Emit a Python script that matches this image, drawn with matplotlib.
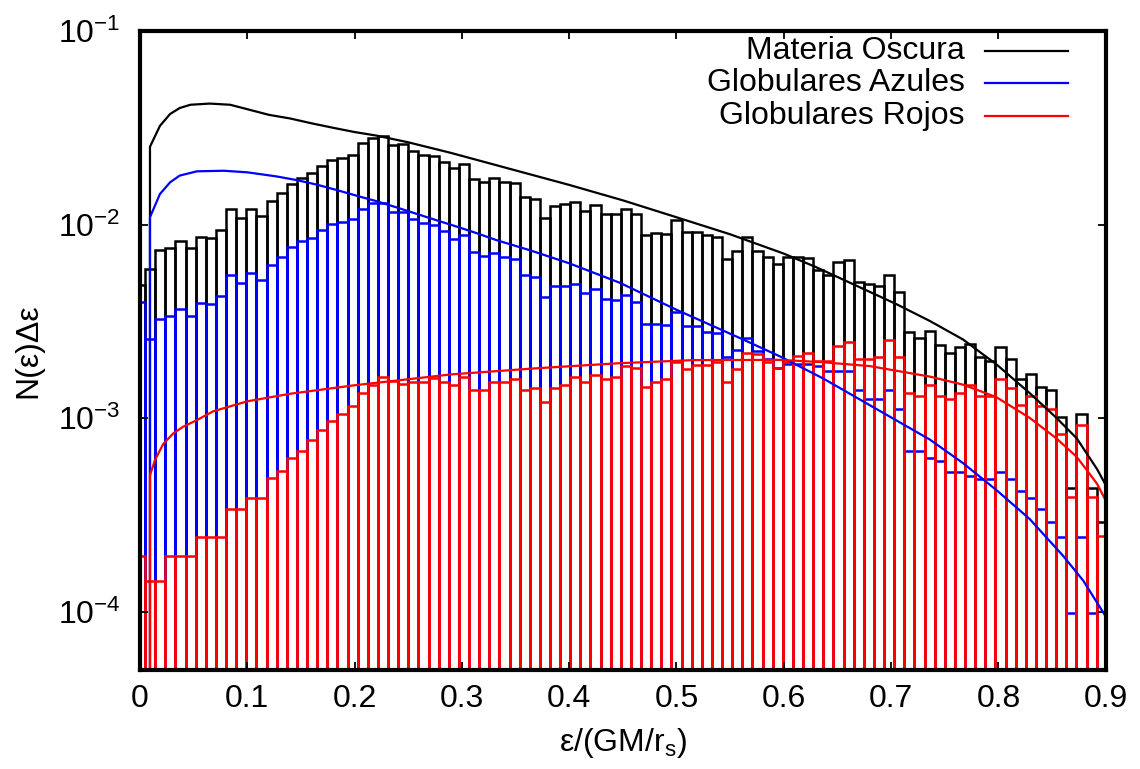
import numpy as np
import matplotlib
matplotlib.use("Agg")
import matplotlib.pyplot as plt
from matplotlib.ticker import NullLocator

plt.rcParams["font.family"] = ["Liberation Sans", "DejaVu Sans"]
plt.rcParams["mathtext.default"] = "regular"

# histogram bins: boxes centred on k * BIN_WIDTH
BIN_WIDTH = 0.009435

dark_hist = [
    4.9e-3, 5.91e-3, 7.35e-3, 7.6e-3, 8.2e-3, 7.6e-3, 8.67e-3, 8.5e-3, 9.4e-3, 1.205e-2,
    1.08e-2, 1.205e-2, 1.11e-2, 1.33e-2, 1.456e-2, 1.63e-2, 1.75e-2, 1.845e-2, 2.0e-2, 2.16e-2,
    2.22e-2, 2.30e-2, 2.65e-2, 2.80e-2, 2.88e-2, 2.58e-2, 2.61e-2, 2.39e-2, 2.29e-2, 2.27e-2,
    2.11e-2, 1.97e-2, 2.06e-2, 1.72e-2, 1.65e-2, 1.73e-2, 1.65e-2, 1.64e-2, 1.39e-2, 1.355e-2,
    1.076e-2, 1.25e-2, 1.27e-2, 1.31e-2, 1.18e-2, 1.26e-2, 1.14e-2, 1.13e-2, 1.21e-2, 1.13e-2,
    8.85e-3, 9.02e-3, 8.93e-3, 1.05e-2, 9.16e-3, 9.16e-3, 8.8e-3, 8.63e-3, 6.65e-3, 7.34e-3,
    8.59e-3, 7.34e-3, 6.82e-3, 6.27e-3, 6.82e-3, 6.82e-3, 6.72e-3, 5.8e-3, 5.47e-3, 6.4e-3,
    6.56e-3, 5.08e-3, 4.96e-3, 4.79e-3, 5.52e-3, 4.49e-3, 2.78e-3, 2.6e-3, 2.82e-3, 2.4e-3,
    2.17e-3, 2.32e-3, 2.41e-3, 2.08e-3, 1.98e-3, 2.32e-3, 2.03e-3, 1.60e-3, 1.70e-3, 1.45e-3,
    1.40e-3, 1.01e-3, 4.37e-4, 1.05e-3, 4.37e-4, 2.9e-4,
]

blue_hist = [
    4.0e-3, 2.55e-3, 3.24e-3, 3.38e-3, 3.66e-3, 3.38e-3, 3.92e-3, 3.88e-3, 4.27e-3, 5.52e-3,
    5.0e-3, 5.61e-3, 5.19e-3, 6.19e-3, 6.79e-3, 7.64e-3, 8.2e-3, 8.57e-3, 9.4e-3, 1.007e-2,
    1.028e-2, 1.07e-2, 1.205e-2, 1.29e-2, 1.30e-2, 1.156e-2, 1.156e-2, 1.07e-2, 1.016e-2, 1.0e-2,
    9.3e-3, 8.4e-3, 8.8e-3, 7.2e-3, 6.9e-3, 7.15e-3, 6.8e-3, 6.66e-3, 5.47e-3, 5.33e-3,
    4.23e-3, 4.83e-3, 4.83e-3, 4.95e-3, 4.42e-3, 4.67e-3, 4.13e-3, 4.09e-3, 4.35e-3, 3.97e-3,
    3.08e-3, 3.08e-3, 3.03e-3, 3.52e-3, 2.99e-3, 2.99e-3, 2.79e-3, 2.75e-3, 2.07e-3, 2.26e-3,
    2.59e-3, 2.23e-3, 2.03e-3, 1.81e-3, 1.9e-3, 1.9e-3, 1.9e-3, 1.85e-3, 1.75e-3, 1.75e-3,
    1.75e-3, 1.4e-3, 1.25e-3, 1.25e-3, 1.40e-3, 1.11e-3, 6.8e-4, 6.8e-4, 6.24e-4, 6.0e-4,
    5.3e-4, 5.3e-4, 5.0e-4, 4.86e-4, 4.86e-4, 5.3e-4, 4.86e-4, 4.2e-4, 3.86e-4, 3.38e-4,
    2.9e-4, 2.43e-4, 9.8e-5, 2.43e-4, 9.8e-5, 0.0,
]

red_hist = [
    1.95e-4, 1.45e-4, 1.45e-4, 1.95e-4, 1.95e-4, 1.95e-4, 2.42e-4, 2.42e-4, 2.42e-4, 3.41e-4,
    3.41e-4, 3.85e-4, 3.85e-4, 4.89e-4, 5.31e-4, 6.24e-4, 6.79e-4, 7.67e-4, 8.68e-4, 9.66e-4,
    1.055e-3, 1.153e-3, 1.349e-3, 1.489e-3, 1.64e-3, 1.563e-3, 1.51e-3, 1.54e-3, 1.54e-3, 1.62e-3,
    1.54e-3, 1.49e-3, 1.64e-3, 1.40e-3, 1.40e-3, 1.54e-3, 1.54e-3, 1.585e-3, 1.40e-3, 1.44e-3,
    1.205e-3, 1.44e-3, 1.49e-3, 1.64e-3, 1.54e-3, 1.68e-3, 1.585e-3, 1.64e-3, 1.86e-3, 1.81e-3,
    1.45e-3, 1.54e-3, 1.585e-3, 1.95e-3, 1.79e-3, 1.88e-3, 1.89e-3, 1.95e-3, 1.54e-3, 1.79e-3,
    2.17e-3, 2.15e-3, 1.95e-3, 1.81e-3, 1.95e-3, 2.1e-3, 2.17e-3, 1.98e-3, 1.98e-3, 2.35e-3,
    2.47e-3, 2.03e-3, 2.02e-3, 2.08e-3, 2.52e-3, 2.08e-3, 1.35e-3, 1.30e-3, 1.49e-3, 1.30e-3,
    1.25e-3, 1.35e-3, 1.49e-3, 1.30e-3, 1.30e-3, 1.585e-3, 1.44e-3, 1.165e-3, 1.30e-3, 1.15e-3,
    1.12e-3, 8.26e-4, 3.9e-4, 9.2e-4, 3.9e-4, 2.45e-4,
]

# model curves (first point comes up from below the axis)
dark_x = [0.0093, 0.0093, 0.0186, 0.028, 0.037, 0.047, 0.065, 0.084, 0.10, 0.12, 0.14, 0.16,
          0.18, 0.20, 0.22, 0.25, 0.29, 0.35, 0.40, 0.45, 0.50, 0.55, 0.60, 0.63, 0.665,
          0.705, 0.736, 0.767, 0.798, 0.829, 0.854, 0.873, 0.892, 0.900]
dark_y = [1e-5, 0.02523, 0.03236, 0.03724, 0.04000, 0.04159, 0.04217, 0.04159, 0.03945, 0.03690,
          0.03532, 0.03334, 0.03162, 0.03006, 0.02884, 0.02661, 0.02344, 0.01905, 0.01603, 0.01334,
          0.01091, 0.00891, 0.00708, 0.00603, 0.00491, 0.00388, 0.00318, 0.00255, 0.00190, 0.00135,
          0.001005, 0.000787, 0.000545, 0.000452]

blue_x = [0.0093, 0.0093, 0.0186, 0.028, 0.037, 0.053, 0.078, 0.10, 0.127, 0.146, 0.165, 0.183,
          0.202, 0.221, 0.239, 0.258, 0.277, 0.295, 0.314, 0.332, 0.364, 0.40, 0.447, 0.50,
          0.562, 0.596, 0.637, 0.687, 0.736, 0.767, 0.798, 0.829, 0.8605, 0.879, 0.899]
blue_y = [1e-5, 0.01091, 0.01439, 0.01652, 0.01791, 0.01884, 0.01897, 0.01862, 0.01774, 0.01698,
          0.01607, 0.01510, 0.01409, 0.01318, 0.01227, 0.01135, 0.01050, 0.00977, 0.00902, 0.00832,
          0.00735, 0.00631, 0.00501, 0.00363, 0.00255, 0.00209, 0.00160, 0.00111, 0.000776,
          0.000586, 0.000426, 0.000302, 0.000194, 0.000145, 0.0000966]

red_x = [0.0093, 0.0093, 0.014, 0.0217, 0.031, 0.040, 0.053, 0.068, 0.10, 0.14, 0.20, 0.29,
         0.37, 0.447, 0.516, 0.596, 0.634, 0.68, 0.736, 0.767, 0.798, 0.829, 0.854, 0.873,
         0.892, 0.899]
red_y = [1e-5, 0.000507, 0.000608, 0.000736, 0.000834, 0.000902, 0.000977, 0.001084, 0.001222,
         0.001337, 0.001479, 0.001683, 0.001811, 0.001923, 0.001995, 0.002, 0.00195, 0.001858,
         0.00164, 0.00149, 0.001285, 0.001005, 0.000787, 0.000631, 0.000458, 0.000385]

labels = ["Materia Oscura", "Globulares Azules", "Globulares Rojos"]
colors = ["#000000", "#0000ff", "#ff0000"]
x_ticks = [0, 0.1, 0.2, 0.3, 0.4, 0.5, 0.6, 0.7, 0.8, 0.9]
x_tick_labels = ["0", "0.1", "0.2", "0.3", "0.4", "0.5", "0.6", "0.7", "0.8", "0.9"]
y_ticks = [1e-4, 1e-3, 1e-2, 1e-1]
y_tick_labels = [r"$10^{-4}$", r"$10^{-3}$", r"$10^{-2}$", r"$10^{-1}$"]

FS = 23
LW = 1.8
fig = plt.figure(figsize=(11.4, 7.69), dpi=100)
ax = fig.add_axes([0.1228, 0.1287, 0.8471, 0.8310])
ax.set_yscale("log")

floor = 1e-7
for hist, col in zip([dark_hist, blue_hist, red_hist], colors):
    vals = np.asarray(hist)
    centers = np.arange(len(vals)) * BIN_WIDTH
    ax.bar(centers, np.maximum(vals, floor) - floor, width=BIN_WIDTH, bottom=floor,
           fill=False, edgecolor=col, linewidth=LW, zorder=1)

for cx, cy, col in zip([dark_x, blue_x, red_x], [dark_y, blue_y, red_y], colors):
    ax.plot(cx, cy, color=col, linewidth=1.6, zorder=2)

ax.set_xlim(0, 0.9)
ax.set_ylim(5e-5, 1e-1)
ax.set_xticks(x_ticks)
ax.set_xticklabels(x_tick_labels)
ax.set_yticks(y_ticks)
ax.set_yticklabels(y_tick_labels)
ax.yaxis.set_minor_locator(NullLocator())
ax.tick_params(direction="in", top=True, right=True, length=6, width=1.3, labelsize=FS)
ax.tick_params(axis="x", pad=10)
ax.tick_params(axis="y", pad=14)
for sp in ax.spines.values():
    sp.set_linewidth(3.0)
    sp.set_zorder(5)

ax.set_xlabel(r"ε/(GM/r$_{s}$)", fontsize=FS)
ax.set_ylabel("N(ε)Δε", fontsize=FS)
ax.xaxis.set_label_coords(0.5, -0.088)
ax.yaxis.set_label_coords(-0.100, 0.5)

# gnuplot-style key: right-justified text, then line sample
rows = [0.969, 0.918, 0.867]
for lab, col, yy in zip(labels, colors, rows):
    ax.text(0.854, yy, lab, transform=ax.transAxes, ha="right", va="center", fontsize=FS)
    ax.plot([0.875, 0.961], [yy, yy], transform=ax.transAxes, color=col, linewidth=1.6,
            zorder=6)

fig.savefig("out.png", dpi=100)
